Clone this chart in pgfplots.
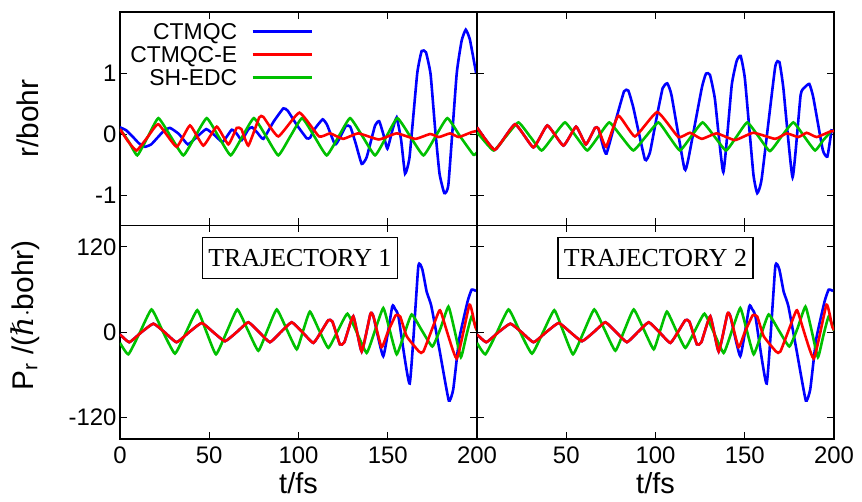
\documentclass[border=0pt]{standalone}
\usepackage{pgfplots}
\usepackage{pgfplotstable}
\pgfplotsset{compat=1.18}
\usepgfplotslibrary{groupplots}
\usepackage{fontspec}
\setmainfont{Liberation Sans}
\newfontfamily\seriffont{Liberation Serif}
\newfontfamily\hbarfont{DejaVu Serif}
\definecolor{gblue}{RGB}{0,0,255}
\definecolor{gred}{RGB}{255,0,0}
\definecolor{ggreen}{RGB}{0,192,0}

% ---------- top left (r, trajectory 1)
\pgfplotstableread{
t v
0 0.11
3.5 0.06
7 -0.04
10.5 -0.15
14 -0.21
17.5 -0.17
21 -0.06
24.5 0.05
28 0.10
33 0.0
38 -0.17
43 -0.05
48.3 0.08
53 -0.02
57.5 -0.13
62.6 0.07
65.5 0.0
68.2 -0.10
72 0.08
74 0.11
77 0.02
80.3 -0.08
86 0.2
91.5 0.42
94 0.38
99 0.15
104.6 -0.07
106.5 -0.06
109 0.08
113.5 0.24
116 0.15
120.4 -0.17
122.5 -0.1
126.5 0.13
129 0.12
132 -0.15
135.4 -0.49
138.2 -0.38
142.9 0.14
145.2 0.21
147.5 0.0
149.8 -0.24
152.5 0.05
155 0.27
157.5 -0.1
159.7 -0.65
162.2 -0.38
166.5 0.99
169 1.36
171.4 1.34
174 0.98
176.5 0.1
179 -0.65
181.7 -0.97
184 -0.82
188.6 0.98
191.4 1.53
193.7 1.71
196 1.55
199.5 1.0
}\TLb
\pgfplotstableread{
t v
0 0.08
4.5 -0.12
9.3 -0.27
15.5 -0.05
21.5 0.16
31.7 -0.21
39.2 0.14
46.7 -0.19
54.2 0.12
60.7 -0.17
65.4 0.10
68 0.08
71.9 -0.19
78 0.27
80.3 0.28
88.7 -0.04
100.5 0.35
111.5 -0.04
117.7 0.01
125 -0.08
133.5 0.01
145 -0.09
155 0.01
165.5 -0.08
173.7 0.0
178.7 -0.05
184.9 0.01
189.8 -0.05
197 0.03
200 0.05
}\TLr
\pgfplotstableread{
t v
0 0.08
4.8 -0.12
9.7 -0.35
15.6 -0.045
21.5 0.26
28.5 -0.045
35.5 -0.35
42 -0.045
48.6 0.26
55.3 -0.045
62 -0.35
68.5 -0.045
75 0.26
82 -0.045
88.7 -0.35
95.3 -0.045
102 0.26
109 -0.045
115.8 -0.35
122.4 -0.045
128.9 0.26
136 -0.045
142.9 -0.35
149.2 -0.045
155.4 0.26
162.7 -0.045
170 -0.35
176.7 -0.045
183.4 0.26
190.7 -0.045
198 -0.34
200 -0.3
}\TLg

% ---------- top right (r, trajectory 2)
\pgfplotstableread{
t v
0 0.11
10 -0.26
21.3 0.16
31.6 -0.22
39.4 0.14
48.4 -0.19
55.5 0.12
61 -0.17
66.1 0.10
68 0.09
70.8 -0.22
72.6 -0.32
77.5 0.2
82.4 0.70
84.8 0.71
87.6 0.43
94.1 -0.42
96.9 -0.3
100.5 0.25
104 0.75
106.6 0.83
109 0.63
116.2 -0.57
118.4 -0.41
125.9 0.75
128.3 0.99
130.5 0.97
133.3 0.57
138 -0.625
142.7 0.8
145.5 1.2
147.7 1.28
150.1 0.9
154.8 -0.65
157 -0.97
159.5 -0.73
167 1.09
169.4 1.18
171.6 0.76
176.8 -0.71
181.3 0.64
183.8 0.77
186.2 0.82
188.4 0.6
193.7 -0.26
196.3 -0.37
198.7 0.08
}\TRb
\pgfplotstableread{
t v
0 0.11
10 -0.26
21.3 0.16
31.6 -0.22
39.4 0.14
48.4 -0.19
55.5 0.12
61 -0.17
66.1 0.10
68 0.09
72.3 -0.21
79.2 0.30
88.5 -0.04
101 0.36
112.8 -0.05
119.3 0.02
125.9 -0.08
134.3 0.01
144.5 -0.1
154.8 0.02
167 -0.08
173.5 0.01
180 -0.05
184.7 0.02
190.3 -0.05
197.8 0.04
200 0.05
}\TRr
\pgfplotstableread{
t v
0 0.03
9.2 -0.27
16.2 -0.04
23.2 0.19
29.7 -0.04
36.2 -0.27
42.7 -0.04
49.3 0.19
55.5 -0.04
61.8 -0.27
68 -0.04
74.1 0.19
80.8 -0.04
87.6 -0.27
94.6 -0.04
101.6 0.19
107.6 -0.04
113.7 -0.27
120 -0.04
126.4 0.19
133 -0.04
139.5 -0.27
145.5 -0.04
151.4 0.19
157.7 -0.04
164.1 -0.28
170.6 -0.04
177.2 0.19
183.3 -0.04
189.4 -0.27
194 -0.1
198 0.03
}\TRg

% ---------- bottom (P_r), same in both panels
\pgfplotstableread{
t v
0 -3
5.2 -14
12 0
18.7 12
25 0
31.7 -14
38.7 0
45.8 13
52.3 0
58.8 -12.6
65.3 0
71.9 14
78 0
84 -14
90 0
96.2 14
102.2 0
108.3 -15
112.5 0
116.7 17
119 15
123.2 -17
125.7 -14
130.7 22.4
135.4 -27
140.3 26
142 22
147.5 -33.6
152.5 36
154 33
156 22
162.3 -72
167.1 92
169.4 88
171.8 57
174.4 37
179 -25
184.2 -96
186.7 -80
190 -10
194.7 43
197 59.8
199.5 58
}\Bb
\pgfplotstableread{
t v
0 -3
5.2 -14
12 0
18.7 12
25 0
31.7 -14
38.7 0
45.8 13
52.3 0
58.8 -12.6
65.3 0
71.9 14
78 0
84 -14
90 0
96.2 14
102.2 0
108.3 -15
112.5 0
116.7 17
119 15
123.2 -17
125.7 -14
130.7 22.4
135.4 -27
140.3 26
142 22
146.5 -21
150 0
154.5 24
157 22
160.6 -5.6
167.5 -27
170 -27
178.5 28.5
180 27
188.6 -37
195.8 38.7
199 8
200 3
}\Br
\pgfplotstableread{
t v
0 -15
4.7 -31
11.2 0
17.7 32
24.2 0
30.8 -30
37 0
43.3 31
48.5 0
53.8 -31
59.7 0
65.7 32
71.6 3
77.5 -26
82.6 3
87.8 32
93.4 4
99 -24
102.7 3
106.4 29
111.5 3
116.7 -22
122 2
127.4 26
132.8 -1
138.2 -29
142.8 2
147.5 34
151.2 2
155 -31
159.2 -3
163.4 25
169 3
175 -20
179.5 5
184 36
187.5 2
191 -35
194 -5
197 22
200 2
}\Bg

\begin{document}
\begin{tikzpicture}
\begin{groupplot}[
  group style={group size=2 by 2, horizontal sep=0pt, vertical sep=0pt,
    x descriptions at=edge bottom, y descriptions at=edge left},
  width=357bp, height=213.5bp, scale only axis,
  xmin=0, xmax=200,
  tick align=inside, major tick length=7bp,
  xtick={0,50,100,150,200},
  every tick/.style={black, line width=0.9bp},
  axis line style={line width=1.3bp},
  tick label style={font=\fontsize{24}{24}\selectfont},
  xticklabel style={yshift=-4bp},
  /pgf/number format/assume math mode=true,
  every axis plot/.append style={line width=2.6bp, smooth, tension=0.25},
  every axis y label/.style={at={(axis description cs:-0.258,0.5)}, rotate=90, anchor=center, font=\fontsize{30}{30}\selectfont},
  every axis x label/.style={at={(axis description cs:0.5,-0.208)}, anchor=center, font=\fontsize{29}{29}\selectfont},
  xlabel={t/fs},
]
\nextgroupplot[ymin=-1.5, ymax=2, ytick={-1,0,1}, ylabel={r/bohr},
  legend style={at={(axis description cs:0.549,0.96)}, anchor=north east,
    draw=none, fill=none, font=\fontsize{23}{23}\selectfont,
    nodes={inner sep=0pt, text height=17bp, text depth=0bp},
    row sep=6bp, column sep=14bp},
  legend cell align=right, legend plot pos=right,
  legend image code/.code={\draw[#1, line width=2.6bp] (0bp,0bp) -- (59bp,0bp);}]
\addlegendimage{gblue}
\addlegendentry{CTMQC}
\addlegendimage{gred}
\addlegendentry{CTMQC-E}
\addlegendimage{ggreen}
\addlegendentry{SH-EDC}
\addplot[gblue, forget plot] table[x=t, y=v] {\TLb};
\addplot[ggreen, forget plot] table[x=t, y=v] {\TLg};
\addplot[gred, forget plot] table[x=t, y=v] {\TLr};

\nextgroupplot[ymin=-1.5, ymax=2, ytick={-1,0,1}, xtick={50,100,150,200}]
\addplot[gblue] table[x=t, y=v] {\TRb};
\addplot[ggreen] table[x=t, y=v] {\TRg};
\addplot[gred] table[x=t, y=v] {\TRr};

\nextgroupplot[ymin=-150, ymax=150, ytick={-120,0,120},
  ylabel={P\textsubscript{r} /({\hbarfont\itshape ℏ}$\cdot$bohr)},
  every axis y label/.style={at={(axis description cs:-0.265,0.58)}, rotate=90, anchor=center, font=\fontsize{30}{30}\selectfont}]
\addplot[gblue] table[x=t, y=v] {\Bb};
\addplot[ggreen] table[x=t, y=v] {\Bg};
\addplot[gred] table[x=t, y=v] {\Br};
\node[draw, line width=1.3bp, fill=white, font=\seriffont\fontsize{26}{26}\selectfont,
  inner xsep=6bp, inner ysep=0bp, minimum height=41bp] at (axis cs:100.8,104) {TRAJECTORY 1};

\nextgroupplot[ymin=-150, ymax=150, ytick={-120,0,120}, xtick={50,100,150,200}]
\addplot[gblue] table[x=t, y=v] {\Bb};
\addplot[ggreen] table[x=t, y=v] {\Bg};
\addplot[gred] table[x=t, y=v] {\Br};
\node[draw, line width=1.3bp, fill=white, font=\seriffont\fontsize{26}{26}\selectfont,
  inner xsep=6bp, inner ysep=0bp, minimum height=41bp] at (axis cs:100,104) {TRAJECTORY 2};
\end{groupplot}
\pgfresetboundingbox
\path ([xshift=-120bp,yshift=12bp]group c1r1.north west) rectangle ([xshift=28bp,yshift=-63bp]group c2r2.south east);
\end{tikzpicture}
\end{document}
